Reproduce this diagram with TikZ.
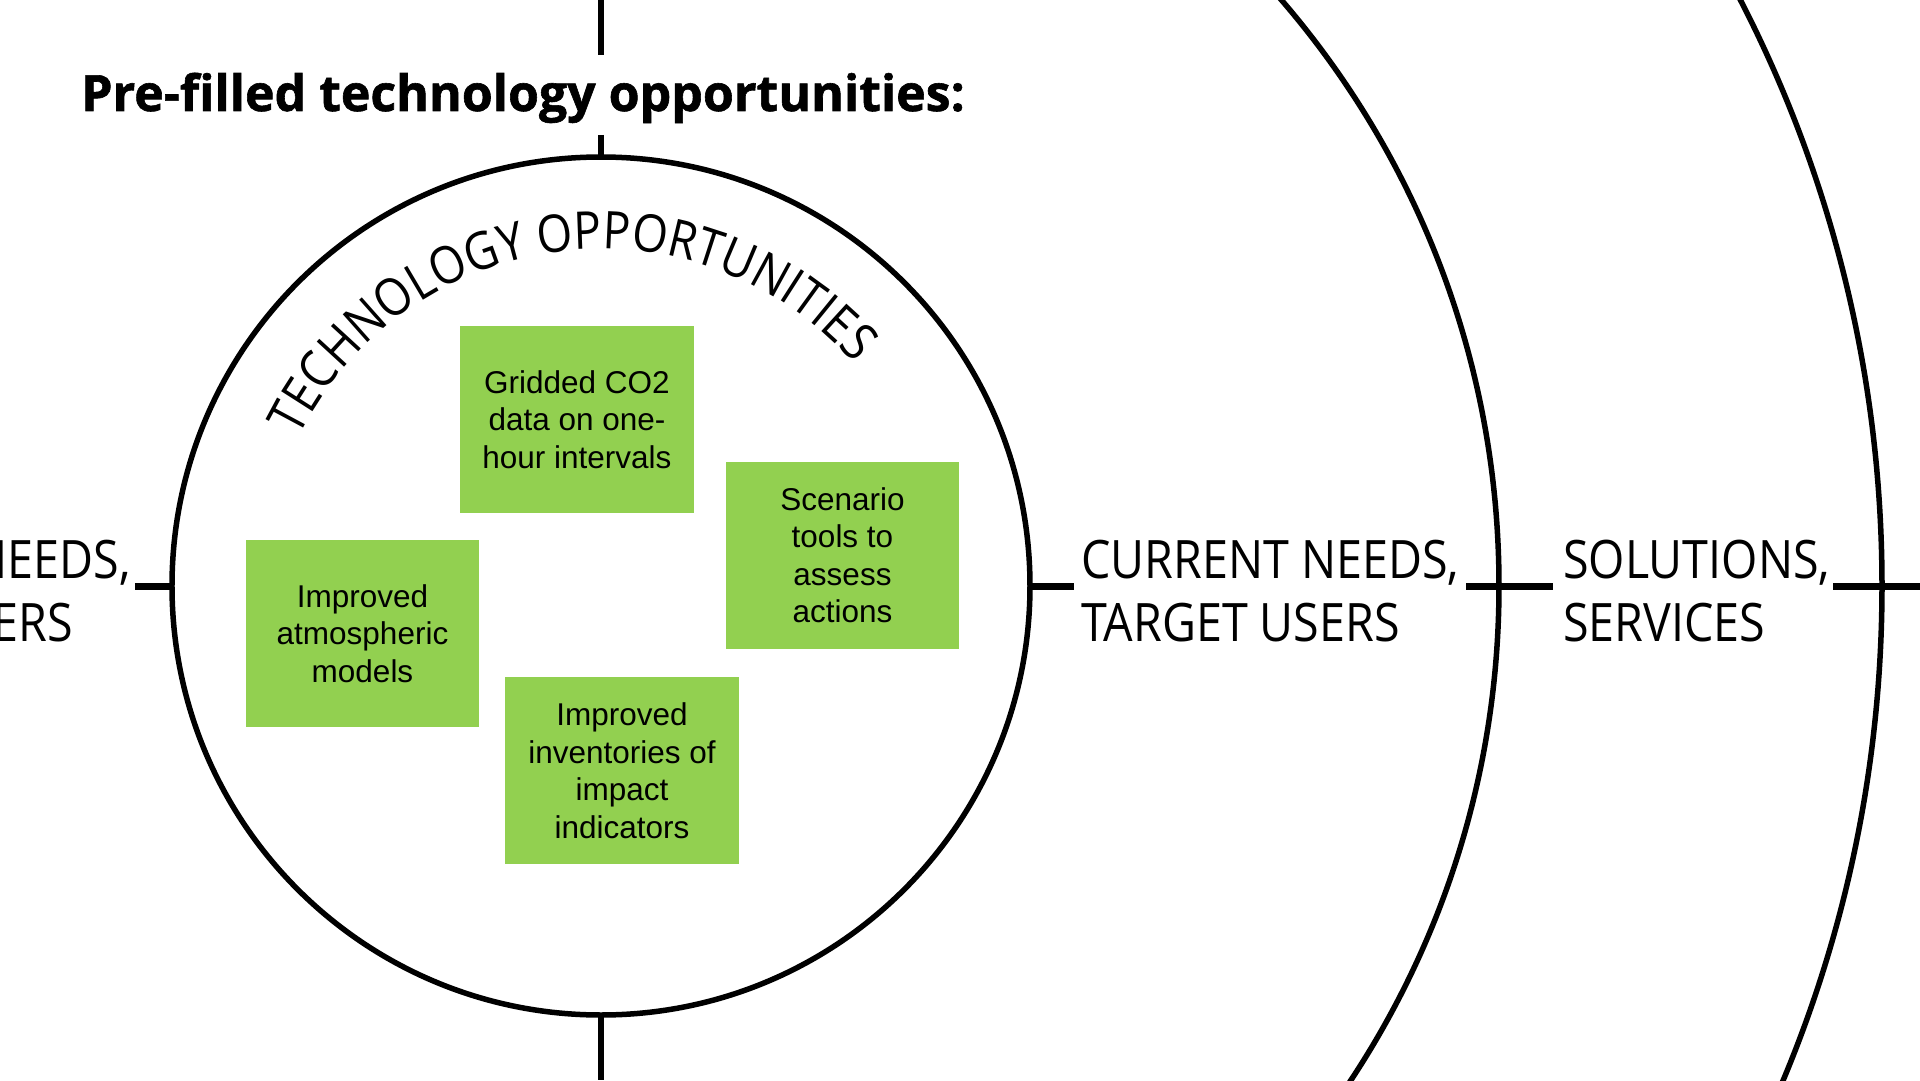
\documentclass[tikz,border=0pt]{standalone}
\usepackage{fontspec}
\setmainfont{Liberation Sans}
\newfontfamily\ringfont[FakeStretch=0.88]{Open Sans}
\newfontfamily\headfont[BoldFeatures={FakeBold=1.2}]{Open Sans}
\usetikzlibrary{decorations.text}
\tikzset{x=1pt,y=1pt}
\definecolor{notegreen}{RGB}{146,208,80}
\tikzstyle{ring}=[line width=5.5pt,black]
\tikzstyle{tick}=[line width=7pt,black]
\tikzstyle{note}=[fill=notegreen,minimum width=233pt,minimum height=187pt,inner sep=0pt,
  align=center,font=\fontsize{31.5}{37.5}\selectfont]
\tikzstyle{ringlabel}=[inner sep=0pt,align=left,font=\ringfont\fontsize{53}{63}\selectfont]

\begin{document}
\begin{tikzpicture}
  \def\Ra{429}  % technology ring
  \def\Rb{898}  % needs ring
  \def\Rc{1281} % solutions ring
  \def\Rt{337}  % curved title
  \coordinate (C) at (0,0);
  \useasboundingbox (-601,-494) rectangle (1319,586);
  \clip (-601,-494) rectangle (1319,586);

  % AXIS
  \draw[line width=6pt] (0,586) -- (0,531) (0,451) -- (0,\Ra) (0,-\Ra) -- (0,-494);

  % RINGS
  \draw[ring] (C) circle (\Ra);
  \draw[ring] (C) circle (\Rb);
  \draw[ring] (C) circle (\Rc);

  % TICKS
  \draw[tick] (-466,0) -- (-\Ra,0);
  \draw[tick] (\Ra,0) -- (473,0);
  \draw[tick] (865,0) -- (952,0);
  \draw[tick] (1232,0) -- (1319,0);

  % TITLE
  \node[anchor=base west,inner sep=0pt,font=\headfont\bfseries\fontsize{50}{60}\selectfont]
    (title) at (-520,475) {Pre-filled technology opportunities:};

  % RING LABELS (base = last line)
  \node[ringlabel,anchor=base east] (pastneeds) at (-470,8) {NEEDS,};
  \node[ringlabel,anchor=base east] (pastusers) at (-528,-55) {USERS};
  \node[ringlabel,anchor=base west] (needs) at (480,-55) {CURRENT NEEDS,\\TARGET USERS};
  \node[ringlabel,anchor=base west] (solutions) at (962,-55) {SOLUTIONS,\\SERVICES};
  \path[decorate,decoration={text along path,text align=center,
    text={|\ringfont\fontsize{52}{62}\selectfont|TECHNOLOGY OPPORTUNITIES}}]
    (160:\Rt) arc (160:35:\Rt);

  % NOTES
  \node[note] (gridded)   at (-24,166.5)  {Gridded CO2\\data on one-\\hour intervals};
  \node[note] (scenario)  at (241.5,31)   {Scenario\\tools to\\assess\\actions};
  \node[note] (atmos)     at (-238.5,-47.5) {Improved\\atmospheric\\models};
  \node[note] (inventory) at (21,-184.5)  {Improved\\inventories of\\impact\\indicators};
\end{tikzpicture}
\end{document}
